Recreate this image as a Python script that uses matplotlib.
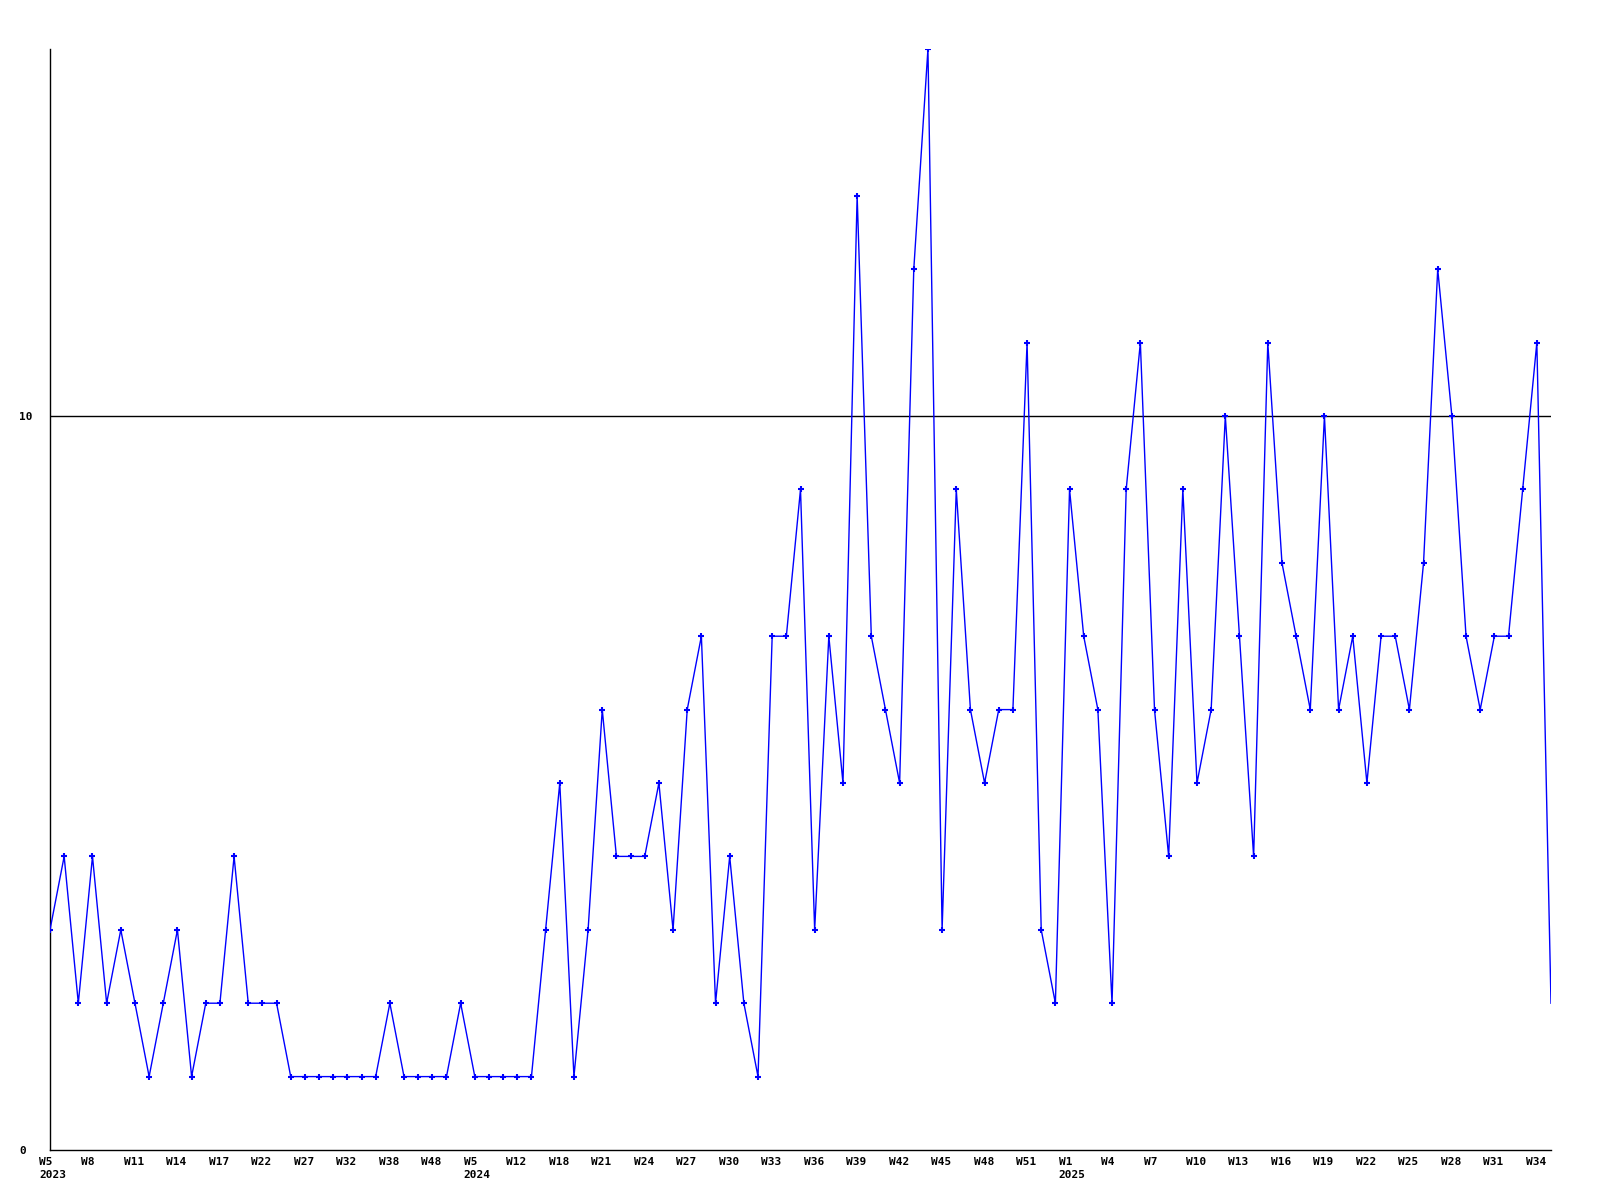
import matplotlib
matplotlib.use("Agg")
import matplotlib.pyplot as plt
import matplotlib.transforms as mtransforms

# values per week (index order)
values = [3, 4, 2, 4, 2, 3, 2, 1, 2, 3, 1, 2, 2, 4, 2, 2, 2, 1, 1, 1,
          1, 1, 1, 1, 2, 1, 1, 1, 1, 2, 1, 1, 1, 1, 1, 3, 5, 1, 3, 6,
          4, 4, 4, 5, 3, 6, 7, 2, 4, 2, 1, 7, 7, 9, 3, 7, 5, 13, 7, 6,
          5, 12, 15, 3, 9, 6, 5, 6, 6, 11, 3, 2, 9, 7, 6, 2, 9, 11, 6, 4,
          9, 5, 6, 10, 7, 4, 11, 8, 7, 6, 10, 6, 7, 5, 7, 7, 6, 8, 12, 10,
          7, 6, 7, 7, 9, 11, 2]

# tick labels, one every 3 weeks
tick_labels = ["W5\n2023", "W8", "W11", "W14", "W17", "W22", "W27", "W32", "W38", "W48",
               "W5\n2024", "W12", "W18", "W21", "W24", "W27", "W30", "W33", "W36", "W39",
               "W42", "W45", "W48", "W51", "W1\n2025", "W4", "W7", "W10", "W13", "W16",
               "W19", "W22", "W25", "W28", "W31", "W34"]
tick_step = 3

y_ticks = [0, 10]
y_max = 15

plt.rcParams['font.family'] = ['DejaVu Sans Mono']

fig = plt.figure(figsize=(16, 12), dpi=100)
ax = fig.add_axes([50/1600, 1 - 1150/1200, 1501/1600, 1101/1200])

x = list(range(len(values)))
ax.axhline(10, color='black', lw=1.0, zorder=1)
ax.plot(x, values, color='#0000ff', lw=1.0, marker='+', ms=3.8, mew=1.5,
        markevery=list(range(len(values) - 1)), zorder=3)

ax.set_xlim(0, len(values) - 1)
ax.set_ylim(0, y_max)

for s in ['top', 'right']:
    ax.spines[s].set_visible(False)
for s in ['left', 'bottom']:
    ax.spines[s].set_color('black')
    ax.spines[s].set_linewidth(1.0)

ax.set_yticks(y_ticks)
ax.set_yticklabels([str(v) for v in y_ticks], fontsize=8, fontweight='bold', ha='left')
ax.tick_params(axis='y', length=0, pad=22)

tick_pos = [i * tick_step for i in range(len(tick_labels))]
ax.set_xticks(tick_pos)
ax.set_xticklabels(tick_labels, fontsize=8, fontweight='bold', ha='left',
                   va='top', linespacing=1.35)
ax.tick_params(axis='x', length=0, pad=5)
offset = mtransforms.ScaledTranslation(-11/100, 0, fig.dpi_scale_trans)
for lab in ax.get_xticklabels():
    lab.set_transform(lab.get_transform() + offset)

fig.savefig("out.png", dpi=100, facecolor='white')
